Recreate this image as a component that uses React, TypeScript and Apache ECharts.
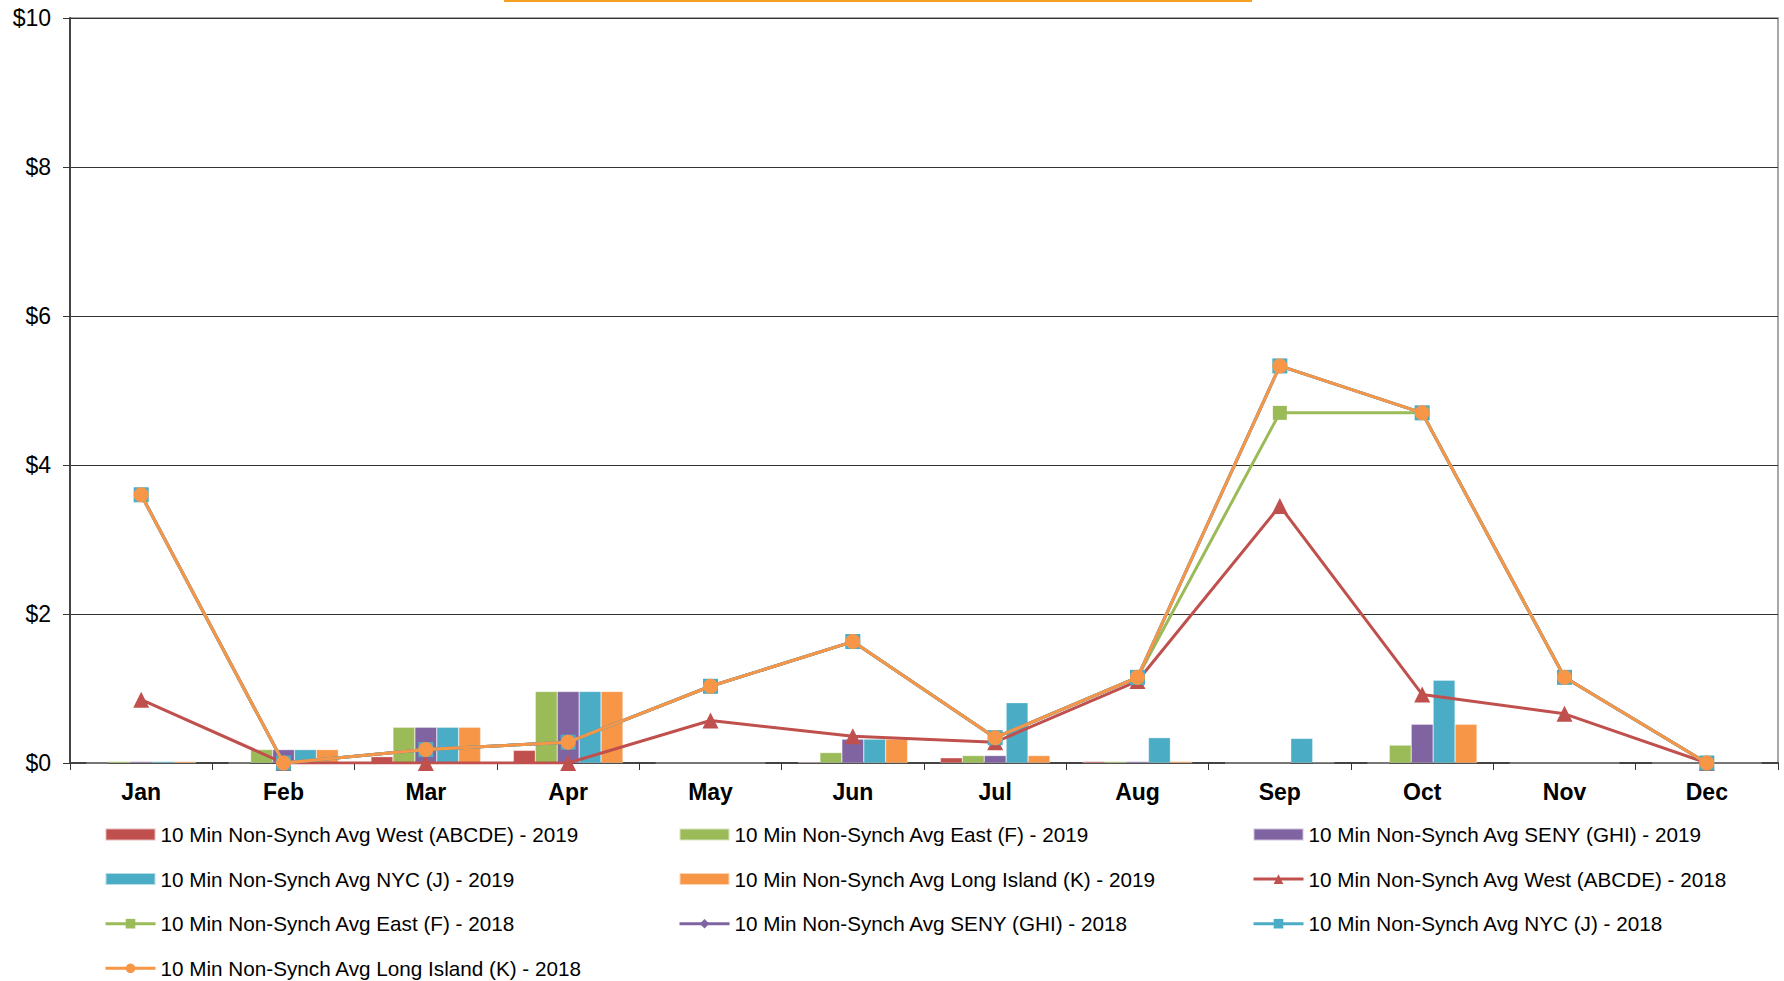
import React, { useEffect, useRef } from "react";
import * as echarts from "echarts";

const months = ["Jan", "Feb", "Mar", "Apr", "May", "Jun", "Jul", "Aug", "Sep", "Oct", "Nov", "Dec"];
const yTicks = [0, 2, 4, 6, 8, 10];

// 2019 bars
const west2019 = [0, 0, 0.085, 0.17, 0, 0.01, 0.07, 0.02, 0, 0, 0, 0];
const east2019 = [0.02, 0.18, 0.48, 0.96, 0, 0.14, 0.1, 0.02, 0, 0.24, 0, 0];
const seny2019 = [0.02, 0.18, 0.48, 0.96, 0, 0.32, 0.1, 0.02, 0, 0.52, 0, 0];
const nyc2019 = [0.02, 0.18, 0.48, 0.96, 0, 0.32, 0.81, 0.34, 0.33, 1.11, 0, 0];
const li2019 = [0.02, 0.18, 0.48, 0.96, 0, 0.32, 0.1, 0.02, 0.005, 0.52, 0, 0];

// 2018 lines
const west2018 = [0.85, 0, 0, 0, 0.57, 0.36, 0.28, 1.1, 3.45, 0.92, 0.66, 0];
const east2018 = [3.6, 0, 0.18, 0.28, 1.03, 1.63, 0.34, 1.15, 4.7, 4.7, 1.15, 0];
const seny2018 = [3.6, 0, 0.18, 0.28, 1.03, 1.63, 0.34, 1.15, 5.33, 4.7, 1.15, 0];
const nyc2018 = [3.6, 0, 0.18, 0.28, 1.03, 1.63, 0.34, 1.15, 5.33, 4.7, 1.15, 0];
const li2018 = [3.6, 0, 0.18, 0.28, 1.03, 1.63, 0.34, 1.15, 5.33, 4.7, 1.15, 0];

const RED = "#C0504D";
const GREEN = "#9BBB59";
const PURPLE = "#8064A2";
const TEAL = "#4BACC6";
const ORANGE = "#F79646";

const N = {
  w19: "10 Min Non-Synch Avg West (ABCDE) - 2019",
  e19: "10 Min Non-Synch Avg East (F) - 2019",
  s19: "10 Min Non-Synch Avg SENY (GHI) - 2019",
  n19: "10 Min Non-Synch Avg NYC (J) - 2019",
  l19: "10 Min Non-Synch Avg Long Island (K) - 2019",
  w18: "10 Min Non-Synch Avg West (ABCDE) - 2018",
  e18: "10 Min Non-Synch Avg East (F) - 2018",
  s18: "10 Min Non-Synch Avg SENY (GHI) - 2018",
  n18: "10 Min Non-Synch Avg NYC (J) - 2018",
  l18: "10 Min Non-Synch Avg Long Island (K) - 2018",
};

const FONT = "'Liberation Sans', Arial, sans-serif";

export default function App() {
  const ref = useRef<HTMLDivElement>(null);
  useEffect(() => {
    document.body.style.margin = "0";
    const chart = echarts.init(ref.current!, null, { renderer: "svg" });
    const bar = (name: string, data: number[], color: string) => ({
      name,
      type: "bar",
      data,
      barGap: "0%",
      barCategoryGap: "23%",
      itemStyle: { color, borderColor: "rgba(255,255,255,0.6)", borderWidth: 0.5 },
      z: 1,
    });
    const line = (name: string, data: number[], color: string, symbol: string, size: number, z: number) => ({
      name,
      type: "line",
      data,
      symbol,
      symbolSize: size,
      showSymbol: true,
      lineStyle: { color, width: 3 },
      itemStyle: { color },
      z,
    });
    const legendBase = {
      orient: "vertical",
      itemWidth: 50,
      itemHeight: 12,
      itemGap: 23.6,
      padding: 0,
      height: 200,
      lineStyle: { width: 3 },
      textStyle: { fontSize: 20.7, fontFamily: FONT, color: "#000" },
      selectedMode: false,
    };
    chart.setOption({
      animation: false,
      textStyle: { fontFamily: FONT },
      grid: {
        left: 70,
        right: 6,
        top: 18,
        bottom: 218,
        show: true,
        borderColor: "#8c8c8c",
        borderWidth: 1.5,
      },
      graphic: [
        {
          type: "line",
          shape: { x1: 504, y1: 1, x2: 1252, y2: 1 },
          style: { stroke: "#F5A020", lineWidth: 2 },
        },
      ],
      legend: [
        {
          ...legendBase,
          left: 104,
          top: 824,
          data: [
            { name: N.w19, icon: "rect" },
            { name: N.n19, icon: "rect" },
            N.e18,
            N.l18,
          ],
        },
        {
          ...legendBase,
          left: 678,
          top: 824,
          data: [{ name: N.e19, icon: "rect" }, { name: N.l19, icon: "rect" }, N.s18],
        },
        {
          ...legendBase,
          left: 1252,
          top: 824,
          data: [{ name: N.s19, icon: "rect" }, N.w18, N.n18],
        },
      ],
      xAxis: {
        type: "category",
        data: months,
        boundaryGap: true,
        axisLine: { lineStyle: { color: "#444", width: 2 } },
        axisTick: { show: true, length: 7, alignWithLabel: false, lineStyle: { color: "#333" } },
        axisLabel: { fontSize: 23, fontWeight: "bold", color: "#000", margin: 17, fontFamily: FONT },
      },
      yAxis: {
        type: "value",
        min: 0,
        max: 10,
        interval: 2,
        axisLine: { show: true, lineStyle: { color: "#444", width: 2 } },
        axisTick: { show: true, length: 7, lineStyle: { color: "#333" } },
        axisLabel: {
          fontSize: 23,
          color: "#000",
          margin: 19,
          fontFamily: FONT,
          formatter: (v: number) => (yTicks.includes(v) ? "$" + v : ""),
        },
        splitLine: { show: true, lineStyle: { color: "#333", width: 1 } },
      },
      series: [
        bar(N.w19, west2019, RED),
        bar(N.e19, east2019, GREEN),
        bar(N.s19, seny2019, PURPLE),
        bar(N.n19, nyc2019, TEAL),
        bar(N.l19, li2019, ORANGE),
        line(N.w18, west2018, RED, "triangle", 16, 3),
        line(N.e18, east2018, GREEN, "rect", 14, 4),
        line(N.s18, seny2018, PURPLE, "diamond", 14, 5),
        line(N.n18, nyc2018, TEAL, "rect", 15, 6),
        line(N.l18, li2018, ORANGE, "circle", 15, 7),
      ],
    });
    return () => chart.dispose();
  }, []);
  return <div ref={ref} style={{ width: 1784, height: 981 }} />;
}
